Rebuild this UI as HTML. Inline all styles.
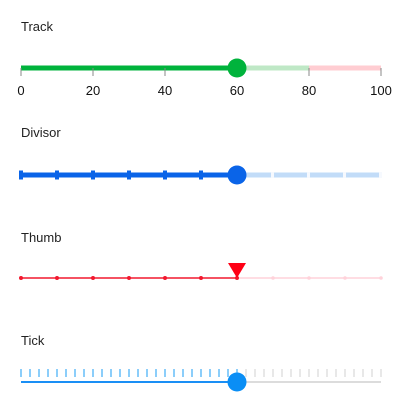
<!DOCTYPE html>
<html><head><meta charset="utf-8"><style>
body{margin:0;background:#fff;width:404px;height:414px;overflow:hidden;font-family:"Liberation Sans",sans-serif}
svg{display:block}
</style></head><body>
<svg width="404" height="414">
<g id="root"></g>
</svg>
<script>
const sliderValue = 60;
const minValue = 0, maxValue = 100;
const trackLabels = [0, 20, 40, 60, 80, 100];
const divisorSteps = [0, 10, 20, 30, 40, 50, 60, 70, 80, 90, 100];
const tickCount = 40;
const rangeBreak = 80;
const titles = ["Track", "Divisor", "Thumb", "Tick"];

const NS = "http://www.w3.org/2000/svg";
const root = document.getElementById('root');
const X0 = 21, X1 = 381;
const sx = v => X0 + (v - minValue) / (maxValue - minValue) * (X1 - X0);
function mk(tag, attrs, name, inter, parent) {
  const e = document.createElementNS(NS, tag);
  for (const k in attrs) e.setAttribute(k, attrs[k]);
  
  
  (parent || root).appendChild(e);
  return e;
}
const titleY = [31, 137, 242, 345];
titles.forEach((t, i) => {
  const e = mk('text', {x: 21, y: titleY[i], 'font-size': 13, fill: '#222'}, 'title-' + t.toLowerCase(), false);
  e.textContent = t;
});
const tv = sx(sliderValue);

// Track slider
let y = 68;
mk('line', {x1: sx(rangeBreak), y1: y, x2: X1, y2: y, stroke: '#ffcdd2', 'stroke-width': 5}, 'track-inactive-range', false);
mk('line', {x1: tv, y1: y, x2: sx(rangeBreak), y2: y, stroke: '#bfe8c6', 'stroke-width': 5}, 'track-inactive', false);
mk('line', {x1: X0, y1: y, x2: tv, y2: y, stroke: '#00b33c', 'stroke-width': 5}, 'track-active', false);
trackLabels.forEach(v => {
  mk('line', {x1: sx(v), y1: y, x2: sx(v), y2: y + 8, stroke: '#888', 'stroke-width': 1}, 'track-tick', false);
  const e = mk('text', {x: sx(v), y: 95, 'font-size': 13, fill: '#111', 'text-anchor': 'middle'}, 'track-label', false);
  e.textContent = v;
});
mk('circle', {cx: tv, cy: y, r: 9.5, fill: '#00b33c'}, 'track-thumb', true);

// Divisor slider
y = 175;
mk('line', {x1: tv, y1: y, x2: X1 - 2, y2: y, stroke: '#c2dcf8', 'stroke-width': 5}, 'divisor-inactive-track', false);
mk('line', {x1: X0, y1: y, x2: tv, y2: y, stroke: '#0a64e8', 'stroke-width': 5}, 'divisor-active-track', false);
divisorSteps.forEach(v => {
  if (v < sliderValue) mk('rect', {x: sx(v) - 2, y: y - 4.5, width: 4, height: 9, fill: '#0a64e8'}, 'divisor-marker', false);
  else if (v > sliderValue) mk('rect', {x: sx(v) - 2, y: y - 3, width: 3, height: 6, fill: '#f6f9fe'}, 'divisor-gap', false);
});
mk('circle', {cx: tv, cy: y, r: 9.5, fill: '#0a64e8'}, 'divisor-thumb', true);

// Thumb slider
y = 278;
mk('line', {x1: tv, y1: y, x2: X1, y2: y, stroke: '#ffd2da', 'stroke-width': 1.5}, 'thumb-inactive-track', false);
mk('line', {x1: X0, y1: y, x2: tv, y2: y, stroke: '#f2182e', 'stroke-width': 1.5}, 'thumb-active-track', false);
divisorSteps.forEach(v => {
  mk('circle', {cx: sx(v), cy: y, r: v <= sliderValue ? 2 : 1.8, fill: v <= sliderValue ? '#f2182e' : '#ffd2da'}, 'thumb-dot', false);
});
mk('polygon', {points: `${tv - 9},${y - 15} ${tv + 9},${y - 15} ${tv},${y}`, fill: '#ff0015'}, 'thumb-triangle', true);

// Tick slider
y = 382;
for (let i = 0; i <= tickCount; i++) {
  const v = minValue + i * (maxValue - minValue) / tickCount;
  mk('line', {x1: sx(v), y1: 369, x2: sx(v), y2: 377, stroke: v <= sliderValue ? '#1a9cf5' : '#d0d0d0', 'stroke-width': 1}, 'tick-mark', false);
}
mk('line', {x1: tv, y1: y, x2: X1, y2: y, stroke: '#dcdcdc', 'stroke-width': 2}, 'tick-inactive-track', false);
mk('line', {x1: X0, y1: y, x2: tv, y2: y, stroke: '#1a8ff5', 'stroke-width': 2}, 'tick-active-track', false);
mk('circle', {cx: tv, cy: y, r: 9.5, fill: '#0a8ef5'}, 'tick-thumb', true);
</script>
</body></html>
